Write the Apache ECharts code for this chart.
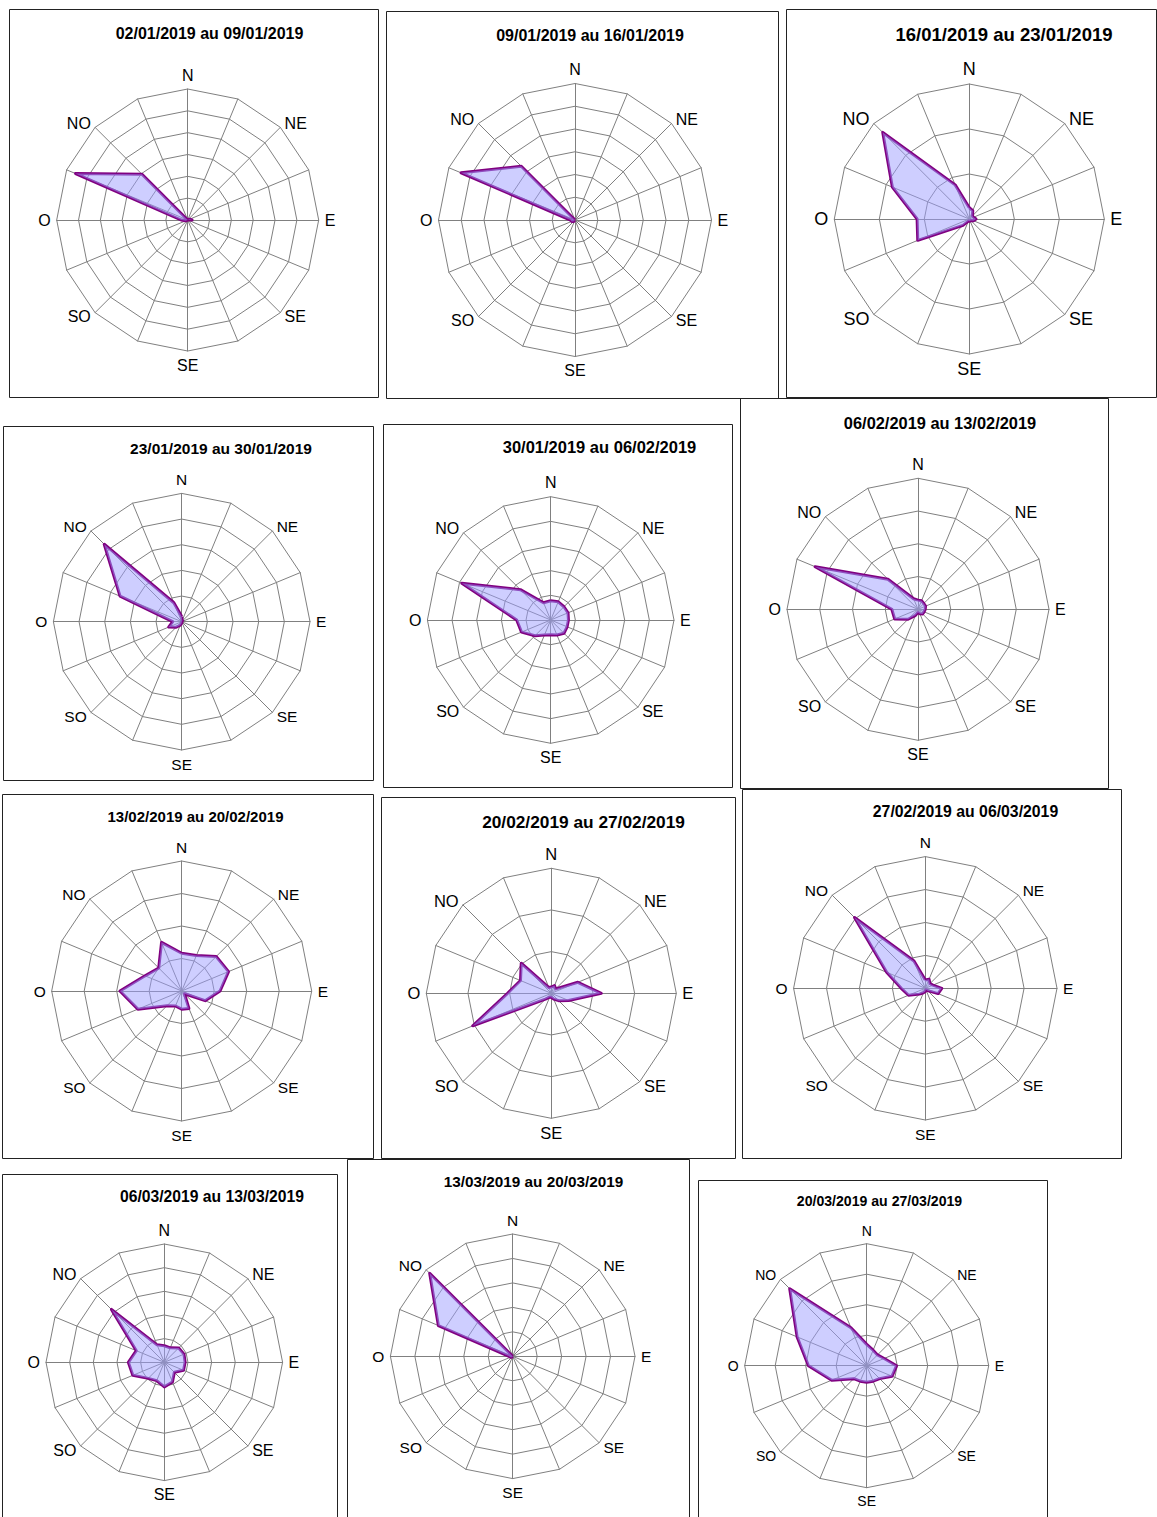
<!DOCTYPE html>
<html>
<head>
<meta charset="utf-8">
<script src="https://cdn.jsdelivr.net/npm/echarts@6/dist/echarts.min.js"></script>
<style>
  html, body { margin: 0; padding: 0; background: #fff; }
  #chart { width: 1157px; height: 1517px; }
</style>
</head>
<body>
<div id="chart"></div>
<script>
// 16 directions, clockwise from north
const directions = ["N", "NNE", "NE", "ENE", "E", "ESE", "SE", "SSE", "S", "SSO", "SO", "OSO", "O", "ONO", "NO", "NNO"];
// labels drawn on the rose (the south one reads "SE" in the original)
const dirLabels = ["N", "", "NE", "", "E", "", "SE", "", "SE", "", "SO", "", "O", "", "NO", ""];

const titles = [
  "02/01/2019 au 09/01/2019", "09/01/2019 au 16/01/2019", "16/01/2019 au 23/01/2019",
  "23/01/2019 au 30/01/2019", "30/01/2019 au 06/02/2019", "06/02/2019 au 13/02/2019",
  "13/02/2019 au 20/02/2019", "20/02/2019 au 27/02/2019", "27/02/2019 au 06/03/2019",
  "06/03/2019 au 13/03/2019", "13/03/2019 au 20/03/2019", "20/03/2019 au 27/03/2019",
];

// number of rings and value of one ring for each week
const ringCounts = [6, 6, 3, 5, 5, 4, 4, 3, 4, 5, 5, 4];
const ringSteps = [5, 5, 20, 10, 5, 10, 5, 10, 10, 5, 10, 10];

// values per direction (same order as directions)
const week0201 = [0, 0, 0, 0.5, 1, 0, 0, 0, 0, 0, 0, 0.5, 1.5, 27.8, 14.8, 0];
const week0901 = [0, 0, 0, 0, 0, 0, 0, 0, 0, 0, 0.5, 0.8, 1, 27.1, 16.7, 0];
const week1601 = [5, 4, 2, 2, 3, 2, 1, 1, 1, 1, 4, 24.8, 23.2, 37, 54.4, 16.4];
const week2301 = [2, 0.5, 0.5, 0, 0, 0, 0, 0, 0.5, 1.5, 3, 5.5, 3.5, 26, 42.7, 8];
const week3001 = [3.9, 4, 3.8, 3.8, 3.6, 3.6, 3.8, 3.3, 3, 3.3, 4.5, 6.4, 6.9, 19.5, 8.7, 3.8];
const week0602 = [2.8, 2.8, 2.5, 2.5, 2.2, 2, 2, 1.5, 1, 2, 4.3, 7.7, 8, 34, 13, 3.5];
const week1302 = [5.8, 5.9, 7.5, 7.8, 5.9, 3.9, 0.6, 2.9, 2.8, 2.5, 3.2, 7.3, 9.5, 6.1, 5, 8.1];
const week2002 = [1.5, 2, 1.5, 6.9, 12, 4.5, 2.5, 1.5, 1, 1, 2, 20.4, 10.5, 8, 10.2, 1.5];
const week2702 = [2.5, 3, 2, 2.5, 5, 4.2, 1, 0.5, 1, 1.5, 2.5, 5.5, 7.3, 12.7, 30.4, 9];
const week0603 = [3.5, 3.3, 4.3, 4.5, 4.4, 4.4, 3, 4.5, 5.2, 4.2, 4.8, 7.2, 7.6, 6.4, 15.8, 4];
const week1303 = [0, 0, 0, 0, 0, 0, 0, 0, 0, 0, 0.5, 1, 1.5, 32.9, 48, 0];
const week2003 = [7, 5.5, 5, 6.2, 9.8, 9, 6, 5.5, 5.4, 5.5, 6, 12.4, 19.1, 24.7, 35.7, 13.5];

const weeks = [week0201, week0901, week1601, week2301, week3001, week0602,
  week1302, week2002, week2702, week0603, week1303, week2003];

// layout of each panel: frame box, rose centre/radius, title position, font sizes
const panels = [
  { box: [9, 9, 369, 388], c: [187.7, 220], r: 131, t: [209.5, 33], tf: 16, lf: 16 },
  { box: [386, 11, 392, 387], c: [575, 220], r: 136.5, t: [590, 35], tf: 16, lf: 16 },
  { box: [786, 9, 370, 388], c: [969.3, 219], r: 135, t: [1004, 34], tf: 18.5, lf: 18 },
  { box: [3, 426, 370, 354], c: [181.7, 621.7], r: 128.3, t: [221, 448], tf: 15.5, lf: 15.5 },
  { box: [383, 424, 349, 363], c: [550.7, 620], r: 123.3, t: [599.5, 447], tf: 16.5, lf: 16 },
  { box: [740, 398, 368, 390], c: [918, 609.3], r: 131, t: [940, 423], tf: 16.4, lf: 16 },
  { box: [2, 794, 371, 364], c: [181.7, 991], r: 130, t: [195.5, 816], tf: 15, lf: 15.5 },
  { box: [381, 797, 354, 361], c: [551.3, 993.3], r: 125, t: [583.5, 822], tf: 17.3, lf: 16.5 },
  { box: [742, 789, 379, 369], c: [925.3, 988.3], r: 131.7, t: [965.5, 811], tf: 15.8, lf: 15.5 },
  { box: [2, 1174, 335, 360], c: [164.3, 1362.3], r: 118.3, t: [212, 1196], tf: 15.7, lf: 16 },
  { box: [347, 1159, 342, 375], c: [512.7, 1356.3], r: 122.3, t: [533.5, 1181], tf: 15.3, lf: 15.5 },
  { box: [698, 1180, 349, 355], c: [866.7, 1365.7], r: 122, t: [879.5, 1201], tf: 14.1, lf: 14 },
];

const font = "'Liberation Sans', Arial, sans-serif";
// ECharts lays indicators counter-clockwise, so walk the compass backwards
const order = directions.map((d, i) => (16 - i) % 16);

const radars = panels.map((p, k) => ({
  center: p.c,
  radius: p.r,
  startAngle: 90,
  shape: "polygon",
  splitNumber: ringCounts[k],
  axisNameGap: 6,
  axisName: { color: "#000", fontSize: p.lf, fontFamily: font },
  indicator: order.map((i) => ({
    name: dirLabels[i],
    min: 0,
    max: ringCounts[k] * ringSteps[k],
  })),
  splitLine: { lineStyle: { color: "#808080", width: 1 } },
  splitArea: { show: false },
  axisLine: { lineStyle: { color: "#808080", width: 1 } },
}));

const series = weeks.map((w, k) => ({
  type: "radar",
  radarIndex: k,
  symbol: "none",
  silent: true,
  lineStyle: { color: "#800080", width: 3 },
  areaStyle: { color: "#9d9dff", opacity: 0.5 },
  data: [{ value: order.map((i) => w[i]), name: titles[k] }],
}));

const graphics = [];
panels.forEach((p, k) => {
  graphics.push({
    type: "rect",
    shape: { x: p.box[0] + 0.5, y: p.box[1] + 0.5, width: p.box[2], height: p.box[3] },
    style: { fill: null, stroke: "#222", lineWidth: 1 },
    z: -1,
  });
  graphics.push({
    type: "text",
    x: p.t[0],
    y: p.t[1],
    style: {
      text: titles[k],
      fill: "#000",
      font: "bold " + p.tf + "px " + font,
      textAlign: "center",
      textVerticalAlign: "middle",
    },
  });
});

const chart = echarts.init(document.getElementById("chart"), null, { renderer: "svg" });
chart.setOption({
  animation: false,
  backgroundColor: "#fff",
  radar: radars,
  series: series,
  graphic: graphics,
});
</script>
</body>
</html>
